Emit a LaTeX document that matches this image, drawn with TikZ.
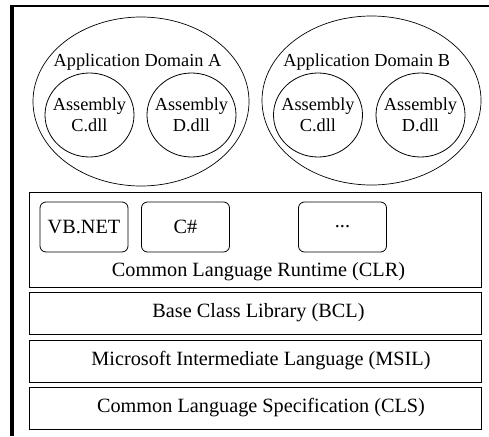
\documentclass[tikz,border=0pt]{standalone}
\usepackage{fontspec}
\setmainfont{Liberation Serif}
\usetikzlibrary{shapes.geometric}
\begin{document}
\begin{tikzpicture}[x=1pt,y=-1pt,
  every node/.style={font=\fontsize{20.25}{20.5}\selectfont},
  small/.style={font=\fontsize{18.3}{20.5}\selectfont},
  dom/.style={draw,ellipse,line width=0.7pt,inner sep=0pt},
  asm/.style={draw,ellipse,line width=0.8pt,inner sep=0pt,minimum width=89pt,minimum height=84pt},
  layer/.style={draw,rectangle,line width=0.8pt,inner sep=0pt,minimum width=452pt},
  lang/.style={draw,rectangle,rounded corners=6pt,line width=0.8pt,inner sep=0pt,minimum width=88pt,minimum height=50pt},
  lbl/.style={inner sep=0pt,align=center}]
\useasboundingbox (0,0) rectangle (489,436);
% outer frame (only top and left edges visible)
\coordinate (fl) at (12,436);
\coordinate (fr) at (489,6);
\draw[line width=3.5pt] (fl) -- (12,5);
\draw[line width=2pt] (10.25,6) -- (fr);
% application domains
\node[dom,minimum width=216pt,minimum height=169pt] (domA) at (141,101.5) {};
\node[dom,minimum width=219pt,minimum height=169pt] (domB) at (371.5,100.5) {};
\node[lbl,small] (tA) at (137.5,62.5) {Application Domain A};
\node[lbl,small] (tB) at (366.7,62.5) {Application Domain B};
\node[asm] (aC) at (89.5,115) {};
\node[asm] (aD) at (191.5,115) {};
\node[asm] (bC) at (318,115) {};
\node[asm] (bD) at (420.5,115) {};
\node[lbl,small] (aCt) at (aC) {Assembly\\C.dll};
\node[lbl,small] (aDt) at (aD) {Assembly\\D.dll};
\node[lbl,small] (bCt) at (bC) {Assembly\\C.dll};
\node[lbl,small] (bDt) at (bD) {Assembly\\D.dll};
% layers
\node[layer,minimum height=95pt] (clr) at (255,239.5) {};
\node[lbl] (clrt) at (258.5,272) {Common Language Runtime (CLR)};
\node[lang] (vb) at (84,227) {VB.NET};
\node[lang] (cs) at (185.5,227) {C\#};
\node[lang] (dots) at (342.5,227) {...};
\node[layer,minimum height=42pt] (bcl) at (255,313) {};
\node[lbl] (bclt) at (258.5,313) {Base Class Library (BCL)};
\node[layer,minimum height=42pt] (msil) at (255,361) {};
\node[lbl] (msilt) at (261,361) {Microsoft Intermediate Language (MSIL)};
\node[layer,minimum height=42pt] (cls) at (255,408) {};
\node[lbl] (clst) at (261,408) {Common Language Specification (CLS)};
\end{tikzpicture}
\end{document}
